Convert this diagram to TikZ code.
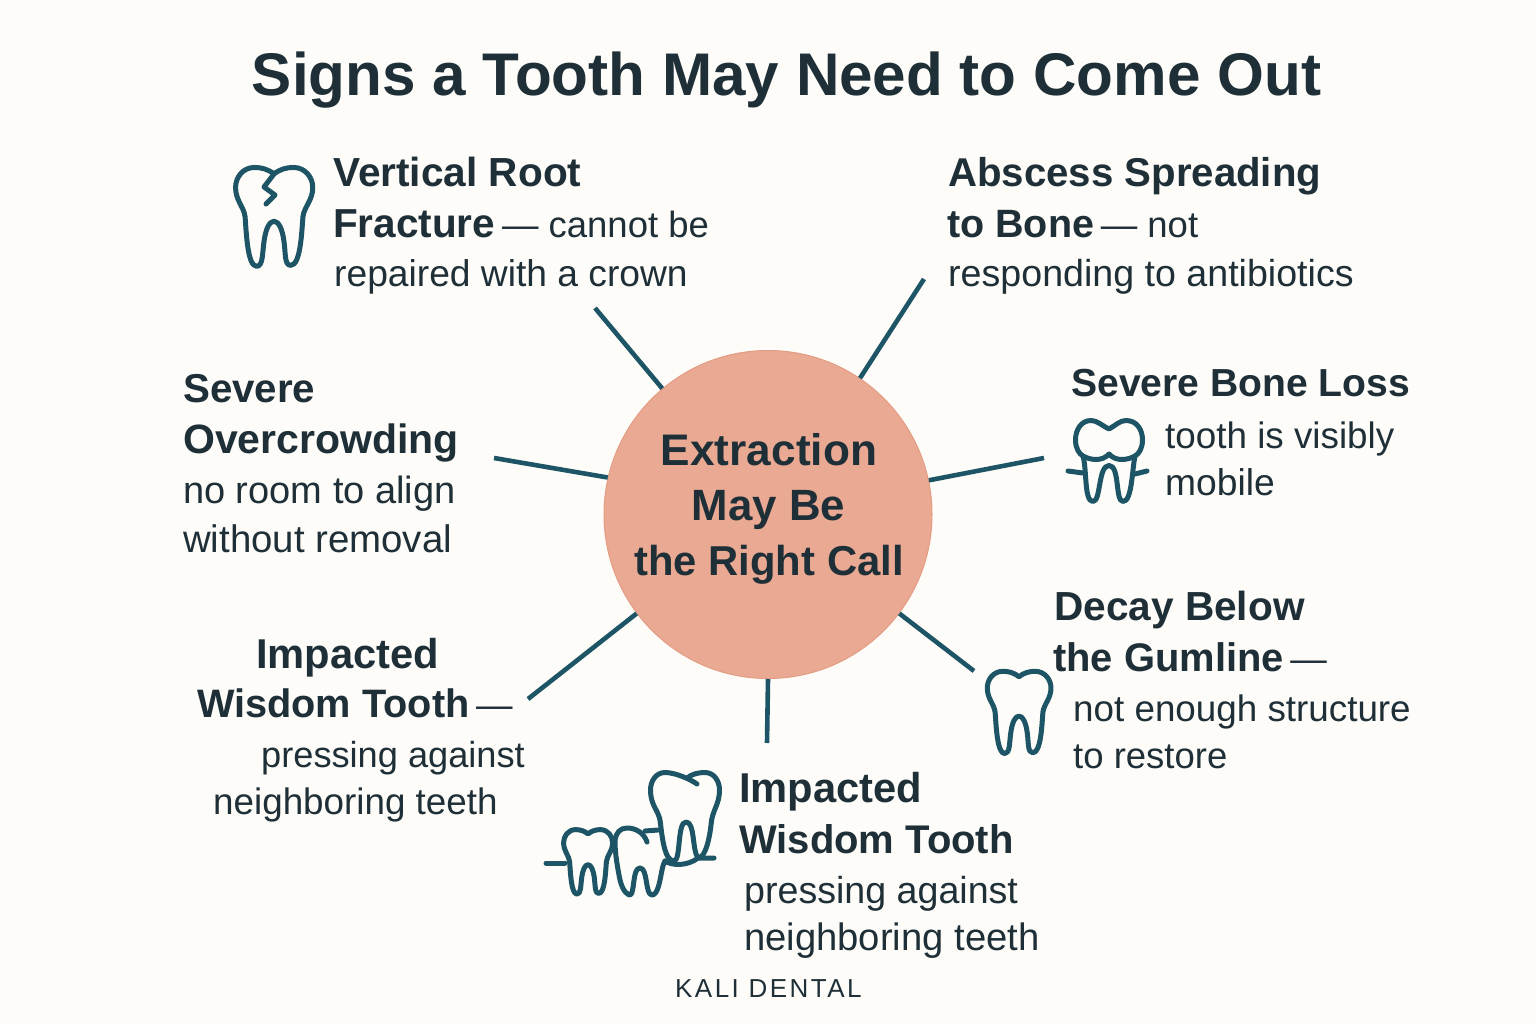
\documentclass[tikz,border=0pt]{standalone}
\usepackage{fontspec}
\setmainfont{Liberation Sans}
\definecolor{bgc}{HTML}{FDFCF8}
\definecolor{ink}{HTML}{1F2F38}
\definecolor{teal}{HTML}{1E5566}
\definecolor{hubfill}{HTML}{E9A992}
\definecolor{hubedge}{HTML}{E59C84}
\newcommand{\dashpart}[1]{\textmd{\fontsize{36.5}{40}\selectfont #1}}
\tikzset{
  head/.style={anchor=base west,inner sep=0pt,text=ink,font=\fontsize{#1}{40}\selectfont\bfseries},
  body/.style={anchor=base west,inner sep=0pt,text=ink,font=\fontsize{#1}{40}\selectfont},
  hubline/.style={anchor=base,inner sep=0pt,text=ink,font=\fontsize{#1}{40}\selectfont\bfseries},
  spoke/.style={draw=teal,line width=4.6pt},
  icon/.style={draw=teal,line width=5pt,line cap=round,line join=round},
  molar/.pic={
    \draw[icon] (0,23) .. controls (-20,8) and (-40,3) .. (-62,3)
      .. controls (-100,3) and (-122,35) .. (-122,65)
      .. controls (-122,105) and (-96,125) .. (-92,155)
      .. controls (-88,200) and (-85,310) .. (-55,310)
      .. controls (-35,310) and (-37,270) .. (-32,235)
      .. controls (-27,195) and (-15,170) .. (0,170)
      .. controls (15,170) and (27,195) .. (32,235)
      .. controls (37,270) and (33,307) .. (53,307)
      .. controls (85,307) and (88,200) .. (92,155)
      .. controls (96,125) and (123,105) .. (123,65)
      .. controls (123,35) and (100,3) .. (62,3)
      .. controls (40,3) and (20,8) .. (0,23) -- cycle;
  },
}
\begin{document}
\begin{tikzpicture}[x=1pt,y=-1pt]
\useasboundingbox (0,0) rectangle (1536,1024);
\fill[bgc] (0,0) rectangle (1536,1024);
\node[anchor=base,inner sep=0pt,text=ink,font=\fontsize{60.2}{60}\selectfont\bfseries] (title) at (786.5,96) {Signs a Tooth May Need to Come Out};

% hub
\node[circle,minimum size=328pt,inner sep=0pt,fill=hubfill,draw=hubedge,line width=1pt] (hub) at (768,514.5) {};
\node[hubline=44.2] (hubA) at (769,465) {Extraction};
\node[hubline=43.8] (hubB) at (768.5,520) {May Be};
\node[hubline=41.8] (hubC) at (769,575) {the Right Call};

% free ends
\coordinate (e1) at (595,308);
\coordinate (e2) at (924,279);
\coordinate (e3) at (1044,458);
\coordinate (e4) at (974,671);
\coordinate (e5) at (767,743);
\coordinate (e6) at (528,699);
\coordinate (e7) at (494,458);
\draw[spoke] (hub.130.6) -- (e1);
\draw[spoke] (hub.56.2) -- (e2);
\draw[spoke] (hub.12.2) -- (e3);
\draw[spoke] (hub.-37.3) -- (e4);
\draw[spoke] (hub.-90) -- (e5);
\draw[spoke] (hub.217.4) -- (e6);
\draw[spoke] (hub.167.7) -- (e7);

% fracture
\node[head=40.6] (a1) at (333,187) {Vertical Root};
\node[head=40.5] (a2) at (333,238) {Fracture\,\dashpart{— cannot be}};
\node[body=37.2] (a3) at (334,287) {repaired with a crown};
% abscess
\node[head=40.2] (b1) at (948,187) {Abscess Spreading};
\node[head=39.5] (b2) at (947,238) {to Bone\,\dashpart{— not}};
\node[body=37.6] (b3) at (948,287) {responding to antibiotics};
% bone loss
\node[head=39.1] (c1) at (1071,396.5) {Severe Bone Loss};
\node[body=36.8] (c2) at (1165,448) {tooth is visibly};
\node[body=37.2] (c3) at (1165,495) {mobile};
% decay
\node[head=40.6] (d1) at (1054,620.5) {Decay Below};
\node[head=39.9] (d2) at (1053,671.5) {the Gumline\,\dashpart{—}};
\node[body=36.8] (d3) at (1073,721) {not enough structure};
\node[body=36.5] (d4) at (1073,768) {to restore};
% wisdom left
\node[head=41.7] (f1) at (256,668.5) {Impacted};
\node[head=39.7] (f2) at (197,717.5) {Wisdom Tooth\,\dashpart{—}};
\node[body=36.2] (f3) at (261,767) {pressing against};
\node[body=36.8] (f4) at (213,814) {neighboring teeth};
% wisdom bottom
\node[head=41.7] (g1) at (739,802.5) {Impacted};
\node[head=40] (g2) at (739,853.5) {Wisdom Tooth};
\node[body=37.6] (g3) at (744,903.5) {pressing against};
\node[body=38.2] (g4) at (744,950) {neighboring teeth};
% overcrowding
\node[head=40.3] (h1) at (183,402.5) {Severe};
\node[head=41] (h2) at (183,453.5) {Overcrowding};
\node[body=38] (h3) at (183,503.5) {no room to align};
\node[body=38.4] (h4) at (183,552.5) {without removal};
% brand
\node[anchor=base west,inner sep=0pt,text=ink,font=\fontsize{26}{28}\selectfont\addfontfeatures{LetterSpace=9.5}] (brand) at (675,997) {KALI DENTAL};

% icons
\pic[xscale=0.315,yscale=0.322] at (274,166.5) {molar};
\draw[icon] (274,174) -- (264,187) -- (275,195) -- (266,204);
\pic[xscale=0.26,yscale=0.268] at (1019,670.5) {molar};

% loose tooth
\draw[icon] (1109,429) .. controls (1101,425) and (1097,420.5) .. (1091,420.5)
  .. controls (1081,420.5) and (1075.5,430) .. (1075.5,440)
  .. controls (1075.5,448) and (1079,454) .. (1083,456)
  .. controls (1090,460) and (1102,462) .. (1109,454)
  .. controls (1116,462) and (1128,460) .. (1135,456)
  .. controls (1139,454) and (1142.5,448) .. (1142.5,440)
  .. controls (1142.5,430) and (1137,420.5) .. (1126,420.5)
  .. controls (1120,420.5) and (1116,425) .. (1109,429) -- cycle;
\draw[icon] (1083,456) .. controls (1087,470) and (1084,501.5) .. (1093,501.5)
  .. controls (1101,501.5) and (1098,465.5) .. (1109,465.5)
  .. controls (1120,465.5) and (1115,501.5) .. (1123,501.5)
  .. controls (1132,501.5) and (1132,470) .. (1135,456);
\draw[icon] (1068,471) -- (1083,473);
\draw[icon] (1147,471) -- (1135,474);

% crowded teeth
\pic[xscale=0.2,yscale=0.21] at (588,829) {molar};
\draw[icon] (647,842) .. controls (644,833) and (636,828) .. (627,828)
  .. controls (620,828) and (616,833) .. (615,840)
  .. controls (615,850) and (616,860) .. (620,880)
  .. controls (623,892) and (628,895) .. (630,895)
  .. controls (635,894) and (632,868) .. (640,868)
  .. controls (648,868) and (645,895) .. (652,895)
  .. controls (658,895) and (660,880) .. (662,870)
  .. controls (663,865) and (664,863) .. (665,861);
\draw[icon] (645,831) -- (658,830);
\draw[icon] (546,863) -- (565,863);
\draw[icon] (697,784) .. controls (690,779) and (675,772.5) .. (665,772.5)
  .. controls (656,772.5) and (650.5,781) .. (650.5,790)
  .. controls (650.5,805) and (658,810) .. (660,820)
  .. controls (662,835) and (664,861) .. (674,861)
  .. controls (681,861) and (677,822) .. (686,822)
  .. controls (695,822) and (692,850) .. (698,858)
  .. controls (706,858) and (710,835) .. (711,825)
  .. controls (712,810) and (719.5,805) .. (719.5,790)
  .. controls (719.5,781) and (714,772.5) .. (705,772.5)
  .. controls (698,772.5) and (692,774) .. (687,778);
\draw[icon] (665,861) .. controls (672,866) and (688,866) .. (698,858) -- (714,858);
\end{tikzpicture}
\end{document}
